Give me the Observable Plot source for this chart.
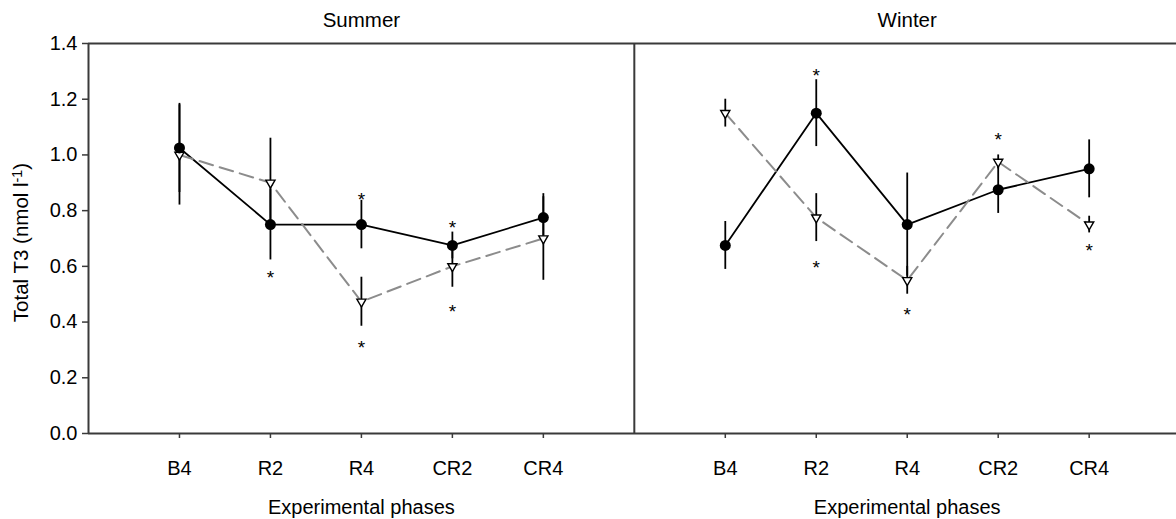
<!DOCTYPE html>
<html>
<head>
<meta charset="utf-8">
<script src="https://cdn.jsdelivr.net/npm/d3@7"></script>
<script src="https://cdn.jsdelivr.net/npm/@observablehq/plot@0.6"></script>
<style>
  html, body { margin: 0; padding: 0; background: #fff; }
  #chart svg { display: block; }
</style>
</head>
<body>
<div id="chart"></div>
<script>
// ---- data ----
const seasons = ["Summer", "Winter"];
const phases = ["B4", "R2", "R4", "CR2", "CR4"];
const yTicks = [0, 0.2, 0.4, 0.6, 0.8, 1.0, 1.2, 1.4];

// filled circles (solid black line)
const circleSummer    = [1.025, 0.75, 0.75, 0.675, 0.775];
const circleSummerErr = [0.16, 0.127, 0.087, 0.048, 0.086];
const circleWinter    = [0.675, 1.15, 0.75, 0.875, 0.95];
const circleWinterErr = [0.086, 0.12, 0.185, 0.085, 0.104];
// open triangles (dashed grey line)
const triSummer    = [1.0, 0.9, 0.473, 0.6, 0.7];
const triSummerErr = [0.18, 0.16, 0.088, 0.075, 0.15];
const triWinter    = [1.15, 0.775, 0.55, 0.975, 0.75];
const triWinterErr = [0.05, 0.086, 0.05, 0.025, 0.03];
// significance asterisks (value where each is drawn)
const starCircleSummer = [null, 0.575, 0.857, 0.756, null];
const starTriSummer    = [null, null, 0.326, 0.456, null];
const starCircleWinter = [null, 1.30, null, null, null];
const starTriWinter    = [null, 0.613, 0.444, 1.073, 0.672];

const xLabel = "Experimental phases";
const yLabelMain = "Total T3 (nmol l";
const yLabelSup = "-1";
const yLabelEnd = ")";

// ---- build table ----
function rowsFor(group, season, vals, errs, stars) {
  const si = seasons.indexOf(season);
  return phases.map((p, i) => ({
    group, season, phase: p,
    pos: si * 6 + i + 1,
    value: vals[i], err: errs[i], star: stars[i]
  }));
}
const circles = [
  ...rowsFor("circle", "Summer", circleSummer, circleSummerErr, starCircleSummer),
  ...rowsFor("circle", "Winter", circleWinter, circleWinterErr, starCircleWinter)
];
const tris = [
  ...rowsFor("tri", "Summer", triSummer, triSummerErr, starTriSummer),
  ...rowsFor("tri", "Winter", triWinter, triWinterErr, starTriWinter)
];
const all = [...circles, ...tris];
const stars = all.filter(d => d.star != null);
const tickPos = [];
seasons.forEach((s, si) => phases.forEach((p, i) => tickPos.push(si * 6 + i + 1)));
const panelCenters = seasons.map((s, si) => ({season: s, pos: si * 6 + 3}));

const axisColor = "#3a3a3a";
const FS = 20;

const chart = Plot.plot({
  width: 1176,
  height: 519,
  marginLeft: 88,
  marginRight: 0,
  marginTop: 43,
  marginBottom: 86,
  style: {fontFamily: "'Liberation Sans', Arial, sans-serif", fontSize: FS + "px", color: "black", background: "white"},
  x: {domain: [0, 11.96], axis: null},
  y: {domain: [0, 1.4], axis: null},
  marks: [
    // frame lines
    Plot.ruleY([0, 1.4], {stroke: axisColor, strokeWidth: 2}),
    Plot.ruleX([0, 6], {y1: 0, y2: 1.4, stroke: axisColor, strokeWidth: 2}),
    // axes
    Plot.axisY({ticks: yTicks, tickFormat: d3.format(".1f"), tickSize: 6, tickPadding: 5,
      fontSize: FS, stroke: axisColor, strokeWidth: 1.5, label: null}),
    Plot.axisX({ticks: tickPos, tickFormat: d => phases[(d - 1) % 6], tickSize: 5, tickPadding: 22,
      fontSize: FS, stroke: axisColor, strokeWidth: 1.5, label: null}),
    // axis titles & panel titles
    Plot.text(panelCenters, {x: "pos", text: () => xLabel, frameAnchor: "bottom", lineAnchor: "middle", dy: 74, fontSize: FS}),
    Plot.text(panelCenters, {x: "pos", text: "season", frameAnchor: "top", lineAnchor: "middle", dy: -23, fontSize: 20.5}),
    Plot.text([yLabelMain], {text: d => d, frameAnchor: "left", textAnchor: "middle", lineAnchor: "middle",
      rotate: -90, dx: -67, dy: 4, fontSize: 20.5, className: "ylabel"}),
    // error bars
    Plot.ruleX(all, {x: "pos", y1: d => d.value - d.err, y2: d => d.value + d.err, stroke: "black", strokeWidth: 1.8}),
    // lines
    Plot.line(circles, {x: "pos", y: "value", z: "season", stroke: "black", strokeWidth: 1.8}),
    Plot.line(tris, {x: "pos", y: "value", z: "season", stroke: "#8c8c8c", strokeWidth: 2, strokeDasharray: "14,7"}),
    // markers
    Plot.dot(tris, {x: "pos", y: "value", symbol: "triangle", r: 3.4, rotate: 180, fill: "white", stroke: "black", strokeWidth: 1.4}),
    Plot.dot(circles, {x: "pos", y: "value", r: 5.5, fill: "black", stroke: "none"}),
    // significance stars
    Plot.text(stars, {x: "pos", y: "star", text: () => "*", fontSize: 19, lineAnchor: "middle", dy: 5})
  ]
});
document.getElementById("chart").appendChild(chart);

// superscript for the unit in the y label
d3.select(chart).selectAll("g.ylabel text").each(function() {
  const t = d3.select(this);
  t.append("tspan").attr("dy", "-0.45em").attr("font-size", "0.7em").text(yLabelSup);
  t.append("tspan").attr("dy", "0.315em").text(yLabelEnd);
});
</script>
</body>
</html>
